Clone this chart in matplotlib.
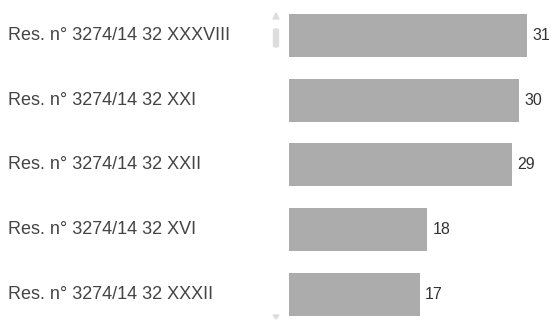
import matplotlib
matplotlib.use("Agg")
import matplotlib.pyplot as plt
from matplotlib.patches import FancyBboxPatch, Polygon
from matplotlib.transforms import blended_transform_factory

categories = [
    "Res. n° 3274/14 32 XXXVIII",
    "Res. n° 3274/14 32 XXI",
    "Res. n° 3274/14 32 XXII",
    "Res. n° 3274/14 32 XVI",
    "Res. n° 3274/14 32 XXXII",
]
values = [31, 30, 29, 18, 17]

plt.rcParams["font.family"] = ["Liberation Sans", "DejaVu Sans"]

W, H = 552, 320
fig = plt.figure(figsize=(W / 100, H / 100), dpi=100)
fig.patch.set_facecolor("white")

ax = fig.add_axes([289 / W, 0, 261 / W, 1])
ypos = list(range(len(values)))
ax.barh(ypos, values, height=0.664, color="#acacac", edgecolor="none")
ax.set_xlim(0, 34)
ax.set_ylim(4.394, -0.548)
ax.axis("off")

for y, v in zip(ypos, values):
    ax.annotate(str(v), (v, y), xytext=(4, 0), textcoords="offset points",
                va="center", ha="left", fontsize=11.5, color="#333333")

trans = blended_transform_factory(fig.transFigure, ax.transData)
for y, c in zip(ypos, categories):
    ax.text(8 / W, y, c, transform=trans, va="center", ha="left",
            fontsize=13, color="#444444")

# scroll indicator
fig.add_artist(Polygon([[273 / W, 1 - 19 / H], [279 / W, 1 - 19 / H], [276 / W, 1 - 13 / H]],
                       closed=True, transform=fig.transFigure, color="#dddddd"))
fig.add_artist(FancyBboxPatch((273.5 / W, 1 - 47 / H), 5 / W, 18 / H,
                              boxstyle="round,pad=0,rounding_size=0.004",
                              transform=fig.transFigure, color="#dddddd"))
fig.add_artist(Polygon([[273 / W, 1 - 315 / H], [279 / W, 1 - 315 / H], [276 / W, 1 - 319 / H]],
                       closed=True, transform=fig.transFigure, color="#dddddd"))

fig.savefig("out.png", dpi=100)
